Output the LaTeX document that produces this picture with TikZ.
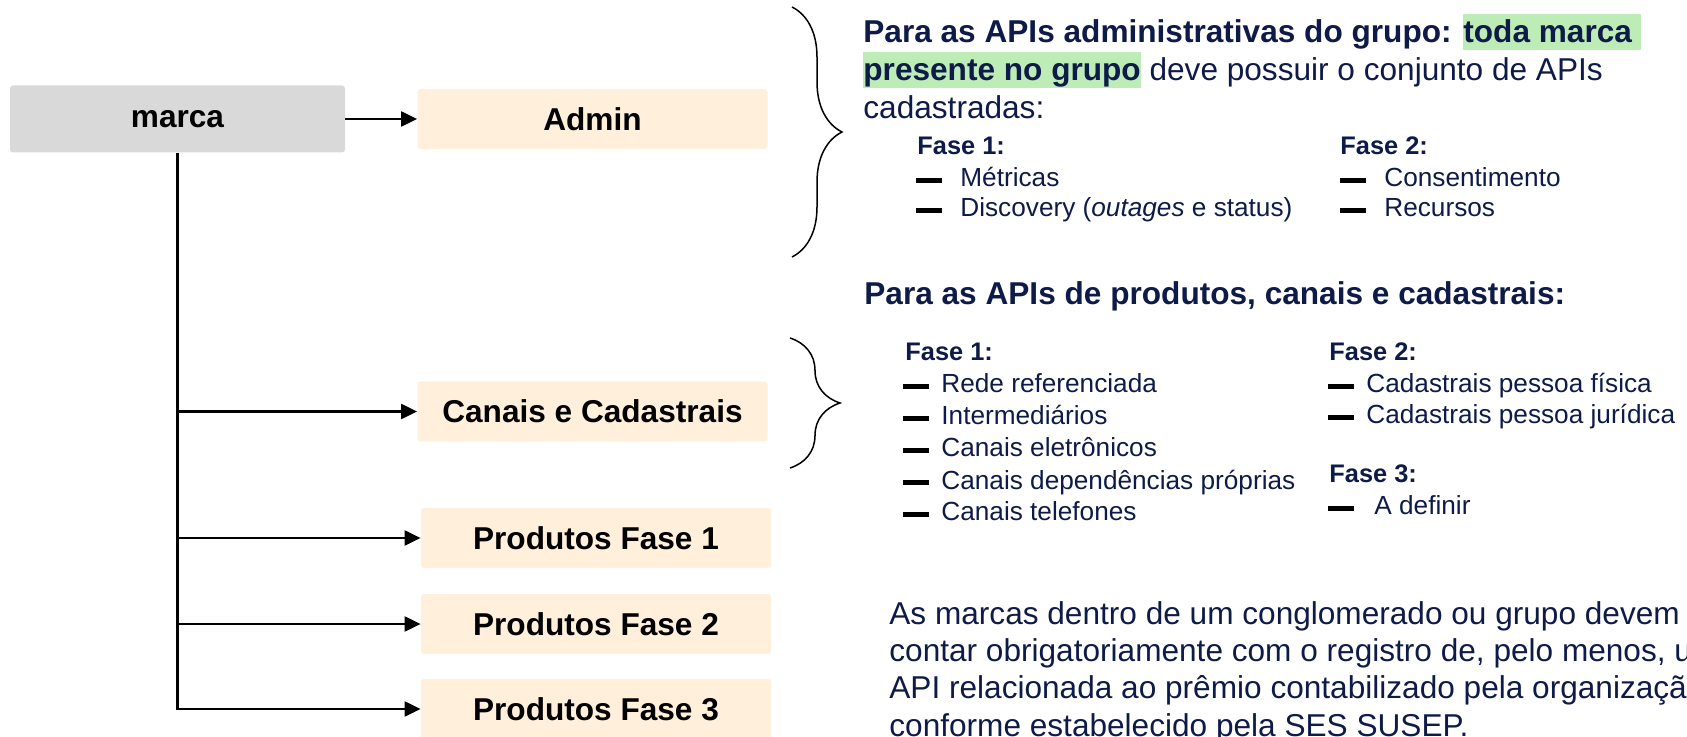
\documentclass[tikz,border=0pt]{standalone}
\usepackage{fontspec}
\setmainfont{Liberation Sans}
\usepackage{tikz}
\usetikzlibrary{arrows.meta,decorations.pathreplacing}
\definecolor{navytext}{HTML}{0E1B48}
\definecolor{boxorange}{HTML}{FFEFDB}
\definecolor{boxgray}{HTML}{D9D9D9}
\definecolor{hlgreen}{HTML}{BDECB6}
\newcommand{\greenmark}[1]{{\setlength{\fboxsep}{0pt}\colorbox{hlgreen}{\rule[-3.5pt]{0pt}{18pt}#1}}}
\newcommand{\bardash}[1]{\textcolor{black}{\rule[1.75pt]{13pt}{2.5pt}}\hspace{#1}}
\tikzstyle{box}=[rectangle, rounded corners=1.5pt, fill=boxorange, minimum width=175pt, minimum height=30pt, inner sep=0pt, font=\fontsize{15.8pt}{19pt}\selectfont\bfseries]
\tikzstyle{rootbox}=[box, fill=boxgray, minimum width=167.5pt, minimum height=33.5pt]
\tikzstyle{arrow}=[draw=black, line width=1.1pt, -{Triangle[length=8pt, width=7.5pt]}]
\tikzstyle{txt}=[anchor=base west, inner sep=0pt, text=navytext]
\tikzstyle{headline}=[txt, font=\fontsize{15.8pt}{19pt}\selectfont\bfseries]
\tikzstyle{bodyline}=[txt, font=\fontsize{15.8pt}{19pt}\selectfont]
\tikzstyle{faseline}=[txt, font=\fontsize{12.7pt}{15pt}\selectfont\bfseries]
\tikzstyle{itemline}=[txt, font=\fontsize{13.1pt}{15pt}\selectfont]
\tikzstyle{bracket}=[draw=black, line width=0.75pt, decorate, decoration={brace, amplitude=25pt}]

\begin{document}
\begin{tikzpicture}[x=0.5pt, y=-0.5pt]
	\useasboundingbox (0,0) rectangle (1687,737);
	% boxes
	\begin{scope}
		\node (marca) at (177.5,119) [rootbox] {marca};
		\node (admin) at (592.5,119) [box] {Admin};
		\node (canais) at (592.5,411.5) [box] {Canais e Cadastrais};
		\node (prod1) at (596,538) [box] {Produtos Fase 1};
		\node (prod2) at (596,624) [box] {Produtos Fase 2};
		\node (prod3) at (596,709) [box] {Produtos Fase 3};
	\end{scope}
	% arrows
	\begin{scope}
		\draw [arrow] (marca) -- (admin);
		\draw [arrow] (marca.south) -- (marca |- prod3) -- (prod3);
		\draw [arrow] (marca |- canais) -- (canais);
		\draw [arrow] (marca |- prod1) -- (prod1);
		\draw [arrow] (marca |- prod2) -- (prod2);
	\end{scope}
	% braces
	\begin{scope}
		\coordinate (brace1top) at (792,7);
		\coordinate (brace1bot) at (792,257);
		\coordinate (brace2top) at (790,338);
		\coordinate (brace2bot) at (790,468);
		\draw [bracket] (brace1top) -- (brace1bot);
		\draw [bracket] (brace2top) -- (brace2bot);
	\end{scope}
	% admin text
	\begin{scope}
		\node (adminhead1) at (863,43) [headline] {Para as APIs administrativas do grupo: \greenmark{toda marca\hspace{4.5pt}}};
		\node (adminhead2) at (863,81) [bodyline] {\textbf{\greenmark{presente no grupo}} deve possuir o conjunto de APIs};
		\node (adminhead3) at (863,119) [bodyline] {cadastradas:};
		\node (adminfase1) at (917,155) [faseline] {Fase 1:};
		\node (adminmetricas) at (916,187) [itemline] {\bardash{9pt}Métricas};
		\node (admindiscovery) at (916,217) [itemline] {\bardash{9pt}Discovery (\textit{outages} e status)};
		\node (adminfase2) at (1340,155) [faseline] {Fase 2:};
		\node (adminconsent) at (1340,187) [itemline] {\bardash{9pt}Consentimento};
		\node (adminrecursos) at (1340,217) [itemline] {\bardash{9pt}Recursos};
	\end{scope}
	% produtos, canais e cadastrais text
	\begin{scope}
		\node (prodhead) at (864,305) [headline] {Para as APIs de produtos, canais e cadastrais:};
		\node (prodfase1) at (905,361) [faseline] {Fase 1:};
		\node (prodrede) at (903,393) [itemline] {\bardash{6pt}Rede referenciada};
		\node (prodinter) at (903,425) [itemline] {\bardash{6pt}Intermediários};
		\node (prodeletr) at (903,457) [itemline] {\bardash{6pt}Canais eletrônicos};
		\node (proddepend) at (903,489) [itemline] {\bardash{6pt}Canais dependências próprias};
		\node (prodtelef) at (903,521) [itemline] {\bardash{6pt}Canais telefones};
		\node (prodfase2) at (1329,361) [faseline] {Fase 2:};
		\node (prodfisica) at (1328,393) [itemline] {\bardash{6pt}Cadastrais pessoa física};
		\node (prodjuridica) at (1328,424) [itemline] {\bardash{6pt}Cadastrais pessoa jurídica};
		\node (prodfase3) at (1329,483) [faseline] {Fase 3:};
		\node (proddefinir) at (1328,515) [itemline] {\bardash{10pt}A definir};
	\end{scope}
	% note
	\begin{scope}
		\node (note1) at (889,624) [bodyline] {As marcas dentro de um conglomerado ou grupo devem};
		\node (note2) at (889,661) [bodyline] {contar obrigatoriamente com o registro de, pelo menos, uma};
		\node (note3) at (889,698) [bodyline] {API relacionada ao prêmio contabilizado pela organização,};
		\node (note4) at (889,736) [bodyline] {conforme estabelecido pela SES SUSEP.};
	\end{scope}
\end{tikzpicture}
\end{document}
